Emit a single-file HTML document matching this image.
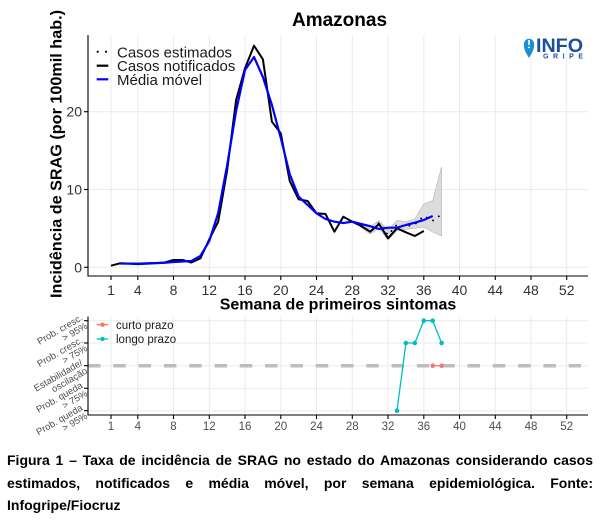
<!DOCTYPE html>
<html><head><meta charset="utf-8">
<style>
html,body{margin:0;padding:0;background:#fff;}
body{width:611px;height:523px;position:relative;overflow:hidden;font-family:"Liberation Sans",Arial,sans-serif;}
svg{position:absolute;left:0;top:0;}
.cap{position:absolute;left:7px;top:449px;width:586px;font:bold 14px "Liberation Sans",Arial,sans-serif;line-height:22.5px;color:#000;}
.j{text-align:justify;text-align-last:justify;}
</style></head><body>
<svg width="611" height="445" viewBox="0 0 611 445" xmlns="http://www.w3.org/2000/svg" font-family="Liberation Sans, Arial, sans-serif">
  <!-- Title -->
  <text x="292" y="26" font-size="19" font-weight="bold" fill="#000">Amazonas</text>

  <!-- top panel grid -->
  <g stroke="#ebebeb" stroke-width="1">
    <line x1="88" y1="267.3" x2="588" y2="267.3"/>
    <line x1="88" y1="189.5" x2="588" y2="189.5"/>
    <line x1="88" y1="111.7" x2="588" y2="111.7"/>
    <line x1="111" y1="35" x2="111" y2="276"/>
    <line x1="137.8" y1="35" x2="137.8" y2="276"/>
    <line x1="173.5" y1="35" x2="173.5" y2="276"/>
    <line x1="209.3" y1="35" x2="209.3" y2="276"/>
    <line x1="245" y1="35" x2="245" y2="276"/>
    <line x1="280.8" y1="35" x2="280.8" y2="276"/>
    <line x1="316.5" y1="35" x2="316.5" y2="276"/>
    <line x1="352.3" y1="35" x2="352.3" y2="276"/>
    <line x1="388" y1="35" x2="388" y2="276"/>
    <line x1="423.8" y1="35" x2="423.8" y2="276"/>
    <line x1="459.5" y1="35" x2="459.5" y2="276"/>
    <line x1="495.3" y1="35" x2="495.3" y2="276"/>
    <line x1="531" y1="35" x2="531" y2="276"/>
    <line x1="566.7" y1="35" x2="566.7" y2="276"/>
  </g>

  <!-- confidence band -->
  <polygon points="361.2,225 370.1,226.7 379.1,220.5 388,230 397,220.5 405.9,221.5 414.8,219 423.8,204 432.7,200.5 441.6,167 441.6,236 432.7,232 423.8,227 414.8,228.3 405.9,229.3 397,230.5 388,240 379.1,228.5 370.1,234 361.2,227.5" fill="#d6d6d6" fill-opacity="0.85" stroke="#b3b3b3" stroke-width="0.6"/>

  <!-- estimated dotted -->
  <polyline points="361.2,226.5 370.1,231 379.1,222.7 388,235 397,224.5 405.9,226.5 414.8,224.5 423.8,216 432.7,220.7 441.6,214.3" fill="none" stroke="#000" stroke-width="1.8" stroke-linecap="round" stroke-dasharray="0.1 7"/>

  <!-- notified black -->
  <polyline points="111,265.7 119.9,263.3 128.9,263.5 137.8,263.6 146.7,263.3 155.7,263 164.6,262.5 173.5,260 182.5,260 191.4,262.5 200.4,258.3 209.3,239.3 218.2,221.7 227.2,170 236.1,100 245,68.3 254,45.7 262.9,59.3 271.9,121.7 280.8,133.3 289.7,181 298.6,199.3 307.6,201 316.5,213.3 325.5,214 334.4,231.7 343.3,216.7 352.3,221.7 361.2,226 370.1,231.7 379.1,224 388,238.3 397,228.3 405.9,232.3 414.8,236 423.8,231" fill="none" stroke="#000" stroke-width="2" stroke-linejoin="round"/>

  <!-- moving average blue -->
  <polyline points="119.9,263.5 128.9,263.7 137.8,264 146.7,263.6 155.7,263.2 164.6,262.8 173.5,262 182.5,261.5 191.4,261 200.4,256 209.3,241 218.2,213 227.2,165 236.1,111 245,70 254,57 262.9,77 271.9,105 280.8,138 289.7,174 298.6,196.7 307.6,205 316.5,213.3 325.5,219 334.4,221.7 343.3,223 352.3,221.7 361.2,224 370.1,226.2 379.1,229 388,227.7 397,227.7 405.9,225 414.8,222.7 423.8,220 432.7,216" fill="none" stroke="#0000ff" stroke-width="2.2" stroke-linejoin="round"/>

  <!-- top axes -->
  <g stroke="#000" stroke-width="1.1">
    <line x1="88" y1="35" x2="88" y2="276.5"/>
    <line x1="87.5" y1="276" x2="588" y2="276"/>
    <line x1="84" y1="267.3" x2="88" y2="267.3"/>
    <line x1="84" y1="189.5" x2="88" y2="189.5"/>
    <line x1="84" y1="111.7" x2="88" y2="111.7"/>
    <line x1="111" y1="276" x2="111" y2="280"/>
    <line x1="137.8" y1="276" x2="137.8" y2="280"/>
    <line x1="173.5" y1="276" x2="173.5" y2="280"/>
    <line x1="209.3" y1="276" x2="209.3" y2="280"/>
    <line x1="245" y1="276" x2="245" y2="280"/>
    <line x1="280.8" y1="276" x2="280.8" y2="280"/>
    <line x1="316.5" y1="276" x2="316.5" y2="280"/>
    <line x1="352.3" y1="276" x2="352.3" y2="280"/>
    <line x1="388" y1="276" x2="388" y2="280"/>
    <line x1="423.8" y1="276" x2="423.8" y2="280"/>
    <line x1="459.5" y1="276" x2="459.5" y2="280"/>
    <line x1="495.3" y1="276" x2="495.3" y2="280"/>
    <line x1="531" y1="276" x2="531" y2="280"/>
    <line x1="566.7" y1="276" x2="566.7" y2="280"/>
  </g>
  <g font-size="14" fill="#333" text-anchor="end">
    <text x="82" y="272.3">0</text>
    <text x="82" y="194.5">10</text>
    <text x="82" y="116.7">20</text>
  </g>
  <g font-size="14" fill="#333" text-anchor="middle">
    <text x="111" y="295">1</text>
    <text x="137.8" y="295">4</text>
    <text x="173.5" y="295">8</text>
    <text x="209.3" y="295">12</text>
    <text x="245" y="295">16</text>
    <text x="280.8" y="295">20</text>
    <text x="316.5" y="295">24</text>
    <text x="352.3" y="295">28</text>
    <text x="388" y="295">32</text>
    <text x="423.8" y="295">36</text>
    <text x="459.5" y="295">40</text>
    <text x="495.3" y="295">44</text>
    <text x="531" y="295">48</text>
    <text x="566.7" y="295">52</text>
  </g>
  <text transform="translate(61.5,154) rotate(-90)" text-anchor="middle" font-size="16" font-weight="bold" fill="#000" textLength="288" lengthAdjust="spacingAndGlyphs">Incidência de SRAG (por 100mil hab.)</text>
  <text x="338" y="309.3" text-anchor="middle" font-size="16" font-weight="bold" fill="#000">Semana de primeiros sintomas</text>

  <!-- top legend -->
  <circle cx="97.7" cy="51.7" r="1.1" fill="#000"/>
  <circle cx="106" cy="51.7" r="1.1" fill="#000"/>
  <line x1="96.7" y1="65.7" x2="108.3" y2="65.7" stroke="#000" stroke-width="2.2"/>
  <line x1="96.7" y1="79.3" x2="108.3" y2="79.3" stroke="#0000ff" stroke-width="2.2"/>
  <g font-size="15" fill="#1a1a1a">
    <text x="117" y="57.3">Casos estimados</text>
    <text x="117" y="71">Casos notificados</text>
    <text x="117" y="85">Média móvel</text>
  </g>

  <!-- logo -->
  <path d="M529,58 C526.5,53.5 523.8,50.5 523.8,44 A5.2,5.2 0 1 1 534.2,44 C534.2,50.5 531.5,53.5 529,58 Z" fill="#1b8fd2"/>
  <rect x="528.2" y="40" width="1.6" height="5" fill="#fff"/>
  <circle cx="529" cy="47.3" r="0.95" fill="#fff"/>
  <text x="536" y="51.8" font-size="19" font-weight="bold" fill="#1c4f9a" textLength="47" lengthAdjust="spacingAndGlyphs">INFO</text>
  <text x="543" y="58.5" font-size="7" font-weight="bold" fill="#1c4f9a" textLength="40" lengthAdjust="spacing">GRIPE</text>

  <!-- bottom panel grid -->
  <g stroke="#ebebeb" stroke-width="1">
    <line x1="88" y1="320.7" x2="588" y2="320.7"/>
    <line x1="88" y1="343" x2="588" y2="343"/>
    <line x1="88" y1="365.7" x2="588" y2="365.7"/>
    <line x1="88" y1="388.3" x2="588" y2="388.3"/>
    <line x1="88" y1="410.7" x2="588" y2="410.7"/>
    <line x1="111" y1="316.5" x2="111" y2="415"/>
    <line x1="137.8" y1="316.5" x2="137.8" y2="415"/>
    <line x1="173.5" y1="316.5" x2="173.5" y2="415"/>
    <line x1="209.3" y1="316.5" x2="209.3" y2="415"/>
    <line x1="245" y1="316.5" x2="245" y2="415"/>
    <line x1="280.8" y1="316.5" x2="280.8" y2="415"/>
    <line x1="316.5" y1="316.5" x2="316.5" y2="415"/>
    <line x1="352.3" y1="316.5" x2="352.3" y2="415"/>
    <line x1="388" y1="316.5" x2="388" y2="415"/>
    <line x1="423.8" y1="316.5" x2="423.8" y2="415"/>
    <line x1="459.5" y1="316.5" x2="459.5" y2="415"/>
    <line x1="495.3" y1="316.5" x2="495.3" y2="415"/>
    <line x1="531" y1="316.5" x2="531" y2="415"/>
    <line x1="566.7" y1="316.5" x2="566.7" y2="415"/>
  </g>
  <line x1="88" y1="365.7" x2="581" y2="365.7" stroke="#bdbdbd" stroke-width="3.5" stroke-dasharray="12.5 12.8"/>

  <!-- longo prazo -->
  <polyline points="397,410.7 405.9,343 414.8,343 423.8,320.7 432.7,320.7 441.6,343" fill="none" stroke="#00BFC4" stroke-width="1.3"/>
  <g fill="#00BFC4">
    <circle cx="397" cy="410.7" r="2.3"/>
    <circle cx="405.9" cy="343" r="2.3"/>
    <circle cx="414.8" cy="343" r="2.3"/>
    <circle cx="423.8" cy="320.7" r="2.3"/>
    <circle cx="432.7" cy="320.7" r="2.3"/>
    <circle cx="441.6" cy="343" r="2.3"/>
  </g>
  <!-- curto prazo -->
  <line x1="432.7" y1="365.7" x2="441.6" y2="365.7" stroke="#F8766D" stroke-width="1.3"/>
  <circle cx="432.7" cy="365.7" r="2.3" fill="#F8766D"/>
  <circle cx="441.6" cy="365.7" r="2.3" fill="#F8766D"/>

  <!-- bottom axes -->
  <g stroke="#000" stroke-width="1.1">
    <line x1="88" y1="316.5" x2="88" y2="415.5"/>
    <line x1="87.5" y1="415" x2="588" y2="415"/>
    <line x1="84" y1="320.7" x2="88" y2="320.7"/>
    <line x1="84" y1="343" x2="88" y2="343"/>
    <line x1="84" y1="365.7" x2="88" y2="365.7"/>
    <line x1="84" y1="388.3" x2="88" y2="388.3"/>
    <line x1="84" y1="410.7" x2="88" y2="410.7"/>
    <line x1="111" y1="415" x2="111" y2="419"/>
    <line x1="137.8" y1="415" x2="137.8" y2="419"/>
    <line x1="173.5" y1="415" x2="173.5" y2="419"/>
    <line x1="209.3" y1="415" x2="209.3" y2="419"/>
    <line x1="245" y1="415" x2="245" y2="419"/>
    <line x1="280.8" y1="415" x2="280.8" y2="419"/>
    <line x1="316.5" y1="415" x2="316.5" y2="419"/>
    <line x1="352.3" y1="415" x2="352.3" y2="419"/>
    <line x1="388" y1="415" x2="388" y2="419"/>
    <line x1="423.8" y1="415" x2="423.8" y2="419"/>
    <line x1="459.5" y1="415" x2="459.5" y2="419"/>
    <line x1="495.3" y1="415" x2="495.3" y2="419"/>
    <line x1="531" y1="415" x2="531" y2="419"/>
    <line x1="566.7" y1="415" x2="566.7" y2="419"/>
  </g>
  <g font-size="11.5" fill="#4d4d4d" text-anchor="middle">
    <text x="111" y="430">1</text>
    <text x="137.8" y="430">4</text>
    <text x="173.5" y="430">8</text>
    <text x="209.3" y="430">12</text>
    <text x="245" y="430">16</text>
    <text x="280.8" y="430">20</text>
    <text x="316.5" y="430">24</text>
    <text x="352.3" y="430">28</text>
    <text x="388" y="430">32</text>
    <text x="423.8" y="430">36</text>
    <text x="459.5" y="430">40</text>
    <text x="495.3" y="430">44</text>
    <text x="531" y="430">48</text>
    <text x="566.7" y="430">52</text>
  </g>
  <g font-size="9.5" fill="#4d4d4d" text-anchor="end">
    <g transform="translate(84,320.7) rotate(-30)"><text x="0" y="-1.3">Prob. cresc.</text><text x="0" y="8.2">&gt; 95%</text></g>
    <g transform="translate(84,343) rotate(-30)"><text x="0" y="-1.3">Prob. cresc.</text><text x="0" y="8.2">&gt; 75%</text></g>
    <g transform="translate(84,365.7) rotate(-30)"><text x="0" y="-1.3">Estabilidade/</text><text x="0" y="8.2">oscilação</text></g>
    <g transform="translate(84,388.3) rotate(-30)"><text x="0" y="-1.3">Prob. queda</text><text x="0" y="8.2">&gt; 75%</text></g>
    <g transform="translate(84,410.7) rotate(-30)"><text x="0" y="-1.3">Prob. queda</text><text x="0" y="8.2">&gt; 95%</text></g>
  </g>

  <!-- bottom legend -->
  <line x1="96.7" y1="324.7" x2="108.3" y2="324.7" stroke="#F8766D" stroke-width="1.3"/>
  <circle cx="102.5" cy="324.7" r="2.2" fill="#F8766D"/>
  <line x1="96.7" y1="339" x2="108.3" y2="339" stroke="#00BFC4" stroke-width="1.3"/>
  <circle cx="102.5" cy="339" r="2.2" fill="#00BFC4"/>
  <g font-size="11.5" fill="#1a1a1a">
    <text x="116" y="328.8">curto prazo</text>
    <text x="116" y="343.1">longo prazo</text>
  </g>
</svg>
<div class="cap">
  <div class="j">Figura 1 – Taxa de incidência de SRAG no estado do Amazonas considerando casos</div>
  <div class="j">estimados, notificados e média móvel, por semana epidemiológica. Fonte:</div>
  <div>Infogripe/Fiocruz</div>
</div>
</body></html>
